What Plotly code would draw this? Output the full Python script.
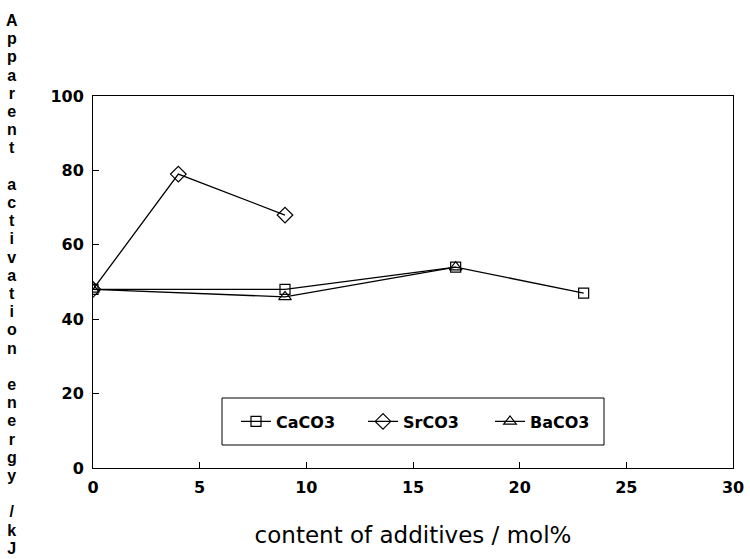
import plotly.graph_objects as go

ca_x = [0, 9, 17, 23]
ca_y = [48, 48, 54, 47]
sr_x = [0, 4, 9]
sr_y = [48, 79, 68]
ba_x = [0, 9, 17]
ba_y = [48, 46, 54]

x_ticks = [0, 5, 10, 15, 20, 25, 30]
y_ticks = [0, 20, 40, 60, 80, 100]

y_title = "Apparent activation energy /kJ"
x_title = "content of additives / mol%"

fig = go.Figure()
line = dict(color="black", width=1.3)
fig.add_trace(go.Scatter(x=ca_x, y=ca_y, name="CaCO3", mode="lines+markers",
                         line=line, marker=dict(symbol="square-open", size=10, color="black", line=dict(width=1.2))))
fig.add_trace(go.Scatter(x=sr_x, y=sr_y, name="SrCO3", mode="lines+markers",
                         line=line, marker=dict(symbol="diamond-open", size=12, color="black", line=dict(width=1.2))))
fig.add_trace(go.Scatter(x=ba_x, y=ba_y, name="BaCO3", mode="lines+markers",
                         line=line, marker=dict(symbol="triangle-up-open", size=11, color="black", line=dict(width=1.2))))

L, R, T, B = 93, 17, 96, 91
W, H = 750, 559
pw, ph = W - L - R, H - T - B

def px_x(p):
    return (p - L) / pw

def px_y(p):
    return (H - B - p) / ph

lbl = "<br>".join(("<span style='font-size:16px'>%s</span>" % c) if c != " " else "\u00a0" for c in y_title)
fig.add_annotation(text=lbl, xref="paper", yref="paper",
                   x=px_x(12), y=px_y(284), xanchor="center", yanchor="middle",
                   showarrow=False, align="center",
                   font=dict(family="Liberation Sans", size=14, color="black", weight="bold"))

# legend frame
fig.add_shape(type="rect", xref="paper", yref="paper",
              x0=px_x(222), x1=px_x(604), y0=px_y(445), y1=px_y(398),
              line=dict(color="black", width=1), fillcolor="white", layer="below")

fig.update_layout(
    width=W, height=H, margin=dict(l=L, r=R, t=T, b=B, autoexpand=False),
    paper_bgcolor="white", plot_bgcolor="white",
    font=dict(family="Liberation Sans", color="black"),
    showlegend=True,
    legend=dict(orientation="h", x=px_x(236), y=px_y(421.5), xanchor="left", yanchor="middle",
                borderwidth=0, bgcolor="rgba(0,0,0,0)",
                font=dict(family="DejaVu Sans", size=16, color="black", weight="bold"),
                entrywidthmode="pixels", entrywidth=82),
    xaxis=dict(range=[0, 30], tickvals=x_ticks, ticktext=[str(v) for v in x_ticks],
               showgrid=False, zeroline=False, showline=True, linecolor="black", linewidth=1,
               mirror=True, ticks="inside", ticklen=6, tickcolor="black", ticklabelstandoff=5,
               tickfont=dict(family="DejaVu Sans", size=16, weight="bold"), automargin=False,
               title=dict(text=x_title, font=dict(family="DejaVu Sans", size=23), standoff=30)),
    yaxis=dict(range=[0, 100], tickvals=y_ticks, ticktext=[str(v) for v in y_ticks],
               showgrid=False, zeroline=False, showline=True, linecolor="black", linewidth=1,
               mirror=True, ticks="inside", ticklen=6, tickcolor="black", ticklabelstandoff=5,
               tickfont=dict(family="DejaVu Sans", size=16, weight="bold"), automargin=False),
)

fig.write_html("out.html", config={"displayModeBar": False},
               post_script="document.body.style.margin='0';document.body.style.padding='0';")
